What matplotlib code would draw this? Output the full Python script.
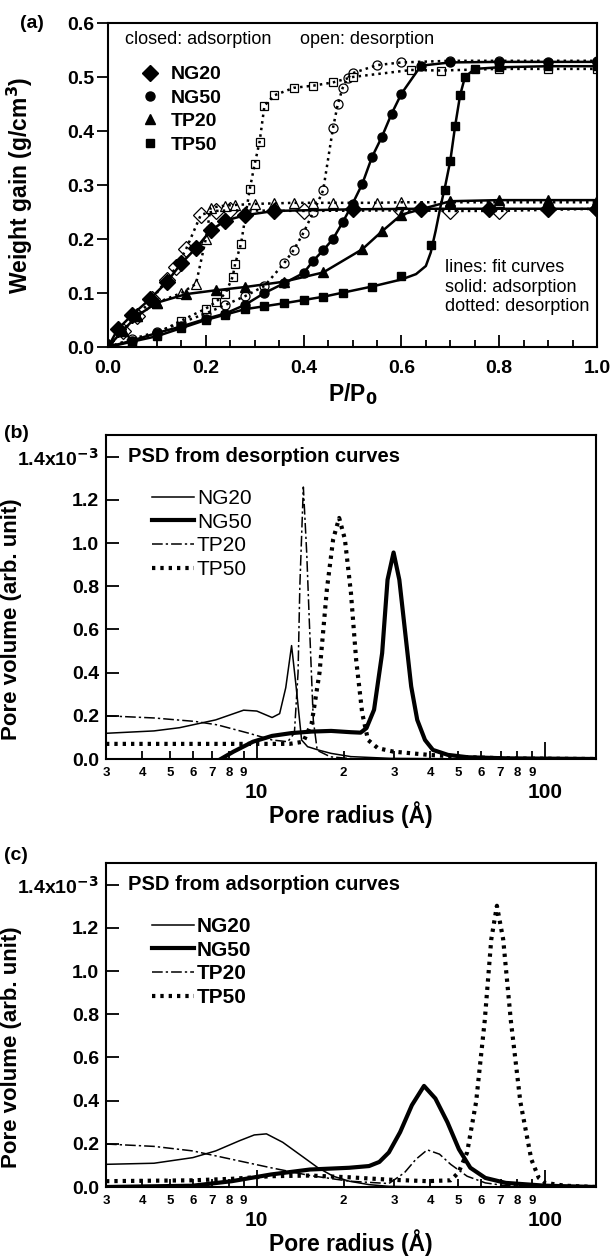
import matplotlib
matplotlib.use('Agg')
import matplotlib.pyplot as plt
from matplotlib.lines import Line2D
from matplotlib.ticker import FixedLocator, FixedFormatter, MultipleLocator, FormatStrFormatter

plt.rcParams['font.family'] = ['Liberation Sans', 'DejaVu Sans']
plt.rcParams['font.weight'] = 'bold'
plt.rcParams['axes.labelweight'] = 'bold'
plt.rcParams['axes.linewidth'] = 1.5

# ---------------- panel (a): isotherms ----------------
ng20_ads_x = [0.0, 0.02, 0.05, 0.085, 0.12, 0.15, 0.18, 0.21, 0.24, 0.28, 0.34, 0.5, 0.64, 0.78, 0.9, 1.0]
ng20_ads_y = [0.0, 0.033, 0.06, 0.088, 0.12, 0.155, 0.183, 0.216, 0.234, 0.244, 0.252, 0.255, 0.256, 0.256, 0.256, 0.256]
ng20_des_x = [0.0, 0.03, 0.06, 0.09, 0.12, 0.14, 0.16, 0.19, 0.22, 0.25, 0.4, 0.6, 0.7, 0.8, 1.0]
ng20_des_y = [0.0, 0.03, 0.058, 0.088, 0.125, 0.148, 0.182, 0.245, 0.252, 0.253, 0.252, 0.253, 0.252, 0.252, 0.256]

ng50_ads_x = [0.0, 0.05, 0.1, 0.15, 0.2, 0.24, 0.28, 0.32, 0.36, 0.4, 0.42, 0.44, 0.46, 0.48, 0.5,
              0.52, 0.54, 0.56, 0.58, 0.6, 0.64, 0.7, 0.8, 0.9, 1.0]
ng50_ads_y = [0.0, 0.012, 0.026, 0.038, 0.052, 0.062, 0.078, 0.1, 0.118, 0.137, 0.16, 0.179, 0.2, 0.231, 0.265,
              0.302, 0.352, 0.389, 0.432, 0.469, 0.521, 0.527, 0.528, 0.528, 0.528]
ng50_des_x = [0.0, 0.05, 0.1, 0.15, 0.2, 0.24, 0.28, 0.32, 0.36, 0.38, 0.4, 0.42, 0.44, 0.46, 0.47,
              0.48, 0.49, 0.5, 0.55, 0.6, 0.7, 0.8, 1.0]
ng50_des_y = [0.0, 0.015, 0.028, 0.045, 0.062, 0.078, 0.094, 0.113, 0.155, 0.18, 0.212, 0.25, 0.29, 0.405, 0.45,
              0.48, 0.498, 0.507, 0.522, 0.527, 0.53, 0.53, 0.53]

tp20_ads_x = [0.0, 0.03, 0.06, 0.1, 0.16, 0.22, 0.28, 0.36, 0.44, 0.52, 0.56, 0.6, 0.7, 0.8, 0.9, 1.0]
tp20_ads_y = [0.0, 0.03, 0.058, 0.082, 0.098, 0.105, 0.111, 0.121, 0.138, 0.181, 0.214, 0.245, 0.27, 0.272, 0.272, 0.272]
tp20_des_x = [0.0, 0.03, 0.06, 0.1, 0.15, 0.18, 0.2, 0.21, 0.24, 0.26, 0.3, 0.34, 0.38, 0.42, 0.46,
              0.55, 0.6, 0.7, 0.8, 1.0]
tp20_des_y = [0.0, 0.03, 0.058, 0.082, 0.1, 0.117, 0.2, 0.258, 0.262, 0.263, 0.265, 0.266, 0.267, 0.267, 0.267,
              0.267, 0.268, 0.268, 0.268, 0.268]

tp50_ads_x = [0.0, 0.05, 0.1, 0.15, 0.2, 0.24, 0.28, 0.32, 0.36, 0.4, 0.44, 0.48, 0.54, 0.6, 0.66,
              0.69, 0.7, 0.71, 0.72, 0.73, 0.75, 0.8, 0.9, 1.0]
tp50_ads_y = [0.0, 0.01, 0.02, 0.035, 0.05, 0.06, 0.07, 0.076, 0.081, 0.087, 0.093, 0.1, 0.112, 0.132, 0.188,
              0.29, 0.345, 0.41, 0.466, 0.5, 0.515, 0.518, 0.52, 0.52]
# fit curve for TP50 adsorption
tp50_fit_x = [0.0, 0.05, 0.1, 0.15, 0.2, 0.28, 0.36, 0.44, 0.54, 0.6, 0.63, 0.65, 0.66, 0.67, 0.68,
              0.69, 0.7, 0.71, 0.72, 0.73, 0.75, 0.8, 0.9, 1.0]
tp50_fit_y = [0.0, 0.01, 0.02, 0.035, 0.05, 0.07, 0.081, 0.093, 0.112, 0.125, 0.135, 0.15, 0.175, 0.215, 0.26,
              0.3, 0.345, 0.41, 0.466, 0.5, 0.515, 0.518, 0.52, 0.52]
tp50_des_x = [0.0, 0.05, 0.1, 0.15, 0.2, 0.22, 0.24, 0.255, 0.26, 0.272, 0.29, 0.3, 0.31, 0.32, 0.34,
              0.38, 0.42, 0.46, 0.5, 0.62, 0.68, 0.8, 0.9, 1.0]
tp50_des_y = [0.0, 0.012, 0.025, 0.049, 0.071, 0.083, 0.099, 0.13, 0.154, 0.191, 0.293, 0.339, 0.38, 0.447, 0.466,
              0.48, 0.484, 0.49, 0.5, 0.513, 0.512, 0.515, 0.515, 0.515]

iso_names = ['NG20', 'NG50', 'TP20', 'TP50']
iso_markers = ['D', 'o', '^', 's']

# ---------------- panel (b): PSD from desorption ----------------
b_ng20_r = [3, 4.4, 5.4, 7.2, 9.0, 10.0, 11.3, 12.0, 12.6, 13.2, 13.7, 14.3, 15.0, 16.5, 18.1, 21.2, 29, 60, 150]
b_ng20_v = [0.119, 0.13, 0.145, 0.181, 0.226, 0.222, 0.192, 0.21, 0.33, 0.525, 0.33, 0.088, 0.057, 0.04, 0.026, 0.011, 0.003, 0.0, 0.0]

b_ng50_r = [7.5, 8.3, 9.7, 11.3, 13.2, 15.5, 18.1, 21.2, 22.9, 24.0, 25.5, 27.2, 28.4, 29.8, 31.2, 32.7,
            34.3, 36.0, 38.3, 40.8, 46, 54, 74, 150]
b_ng50_v = [0.0, 0.034, 0.08, 0.107, 0.12, 0.127, 0.13, 0.124, 0.122, 0.143, 0.228, 0.49, 0.83, 0.956, 0.83, 0.585,
            0.336, 0.181, 0.088, 0.042, 0.019, 0.008, 0.003, 0.0]

b_tp20_r = [3, 4.4, 6.1, 7.3, 9.4, 11.3, 12.8, 13.5, 13.9, 14.1, 14.5, 14.9, 15.2, 15.7, 16.2, 18, 22, 150]
b_tp20_v = [0.2, 0.19, 0.174, 0.158, 0.119, 0.088, 0.08, 0.12, 0.4, 0.8, 1.259, 0.95, 0.646, 0.18, 0.04, 0.01, 0.0, 0.0]

b_tp50_r = [3, 8, 13, 14.5, 15.5, 16.5, 17.5, 18.4, 19.3, 20.2, 21.2, 22.1, 23.2, 24.3, 26.3, 29.8,
            39.5, 54, 80, 150]
b_tp50_v = [0.07, 0.07, 0.07, 0.08, 0.166, 0.4, 0.786, 1.018, 1.116, 1.018, 0.77, 0.46, 0.212, 0.088, 0.05, 0.034,
            0.019, 0.008, 0.002, 0.0]

# ---------------- panel (c): PSD from adsorption ----------------
c_ng20_r = [3, 4.4, 6.0, 7.2, 8.7, 9.8, 10.8, 12.3, 14.3, 16.3, 18.4, 20.9, 24.5, 28.7, 40, 150]
c_ng20_v = [0.105, 0.11, 0.136, 0.167, 0.214, 0.241, 0.246, 0.207, 0.144, 0.089, 0.05, 0.027, 0.011, 0.003, 0.0, 0.0]

c_ng50_r = [3, 6.0, 8.2, 11.2, 15.3, 17.9, 20.9, 24.5, 26.6, 28.7, 31.4, 34.5, 38.0, 41.6, 45.8, 50.2,
            55, 62, 73, 100, 150]
c_ng50_v = [0.0, 0.006, 0.027, 0.058, 0.081, 0.085, 0.089, 0.097, 0.116, 0.16, 0.254, 0.379, 0.468, 0.41, 0.3, 0.175,
            0.089, 0.042, 0.019, 0.006, 0.0]

c_tp20_r = [3, 4.4, 6.0, 8.2, 11.2, 15.3, 20.9, 28.7, 32.5, 35.6, 39, 43, 47, 53.6, 62, 73, 150]
c_tp20_v = [0.199, 0.188, 0.167, 0.128, 0.089, 0.053, 0.027, 0.016, 0.066, 0.128, 0.172, 0.152, 0.105, 0.05, 0.019, 0.006, 0.0]

c_tp50_r = [3, 6.0, 8.2, 11.2, 15.3, 20.9, 28.7, 39, 47, 50, 53.6, 57.6, 61.7, 65, 68, 71.5, 76,
            82, 89.5, 95, 100, 117, 150]
c_tp50_v = [0.027, 0.031, 0.038, 0.05, 0.053, 0.045, 0.034, 0.027, 0.031, 0.066, 0.16, 0.394, 0.77, 1.146, 1.302, 1.146, 0.77,
            0.394, 0.128, 0.042, 0.019, 0.006, 0.0]

psd_names = ['NG20', 'NG50', 'TP20', 'TP50']
minor_r = [3, 4, 5, 6, 7, 8, 9, 20, 30, 40, 50, 60, 70, 80, 90]
minor_lab = ['3', '4', '5', '6', '7', '8', '9', '2', '3', '4', '5', '6', '7', '8', '9']
psd_yticks = [0.0, 0.2, 0.4, 0.6, 0.8, 1.0, 1.2, 1.4]
psd_ylabels = ['0.0', '0.2', '0.4', '0.6', '0.8', '1.0', '1.2', '1.4x10$^{-3}$']

W, H = 610, 1259
fig = plt.figure(figsize=(W / 100, H / 100), dpi=100)


def box(l, r, t, b):
    return [l / W, 1 - b / H, (r - l) / W, (b - t) / H]


# ---- (a) ----
ax = fig.add_axes(box(108, 597, 23, 347))
des_kw = dict(ls=':', lw=1.8, color='black')
ads_kw = dict(ls='-', lw=1.8, color='black')
ms = {'D': 8, 'o': 6.5, '^': 7, 's': 6}

series = [
    (ng20_ads_x, ng20_ads_y, ng20_des_x, ng20_des_y, 'D'),
    (ng50_ads_x, ng50_ads_y, ng50_des_x, ng50_des_y, 'o'),
    (tp20_ads_x, tp20_ads_y, tp20_des_x, tp20_des_y, '^'),
    (tp50_ads_x, tp50_ads_y, tp50_des_x, tp50_des_y, 's'),
]
for xa, ya, xd, yd, m in series:
    ax.plot(xd, yd, ls='none', marker=m, ms=ms[m], mfc='white', mec='black', mew=0.9, zorder=2)
    ax.plot(xd, yd, zorder=3, **des_kw)
    if m == 's':
        ax.plot(tp50_fit_x, tp50_fit_y, zorder=4, **ads_kw)
    else:
        ax.plot(xa, ya, zorder=4, **ads_kw)
    ax.plot(xa, ya, ls='none', marker=m, ms=ms[m], color='black', zorder=5)

ax.set_xlim(0, 1.0)
ax.set_ylim(0, 0.6)
ax.xaxis.set_major_locator(MultipleLocator(0.2))
ax.xaxis.set_minor_locator(MultipleLocator(0.05))
ax.yaxis.set_major_locator(MultipleLocator(0.1))
ax.tick_params(axis='x', which='major', direction='in', length=9, width=1.3, labelsize=14, pad=9)
ax.tick_params(axis='x', which='minor', direction='in', length=5, width=1.3)
ax.tick_params(axis='y', which='major', direction='out', length=8, width=1.3, labelsize=14, pad=2)
ax.xaxis.set_major_formatter(FormatStrFormatter('%.1f'))
ax.yaxis.set_major_formatter(FormatStrFormatter('%.1f'))
ax.set_xlabel('P/P$_0$', fontsize=16.5, labelpad=3)
ax.set_ylabel('Weight gain (g/cm$^3$)', fontsize=16.5)
ax.yaxis.set_label_coords(-0.15, 0.5)

ax.text(0.035, 0.95, 'closed: adsorption', transform=ax.transAxes, fontsize=13, weight='normal', va='center')
ax.text(0.393, 0.95, 'open: desorption', transform=ax.transAxes, fontsize=13, weight='normal', va='center')
ax.text(0.69, 0.185, 'lines: fit curves\nsolid: adsorption\ndotted: desorption', transform=ax.transAxes,
        fontsize=13, weight='normal', va='center', linespacing=1.18, zorder=10,
        bbox=dict(fc='white', ec='none', pad=1))

handles = [Line2D([], [], ls='none', marker=m, ms=ms[m], color='black') for m in iso_markers]
ax.legend(handles, iso_names, loc='upper left', bbox_to_anchor=(0.066, 0.868), frameon=False,
          handlelength=1.0, handletextpad=0.55, labelspacing=0.3, borderaxespad=0,
          borderpad=0, prop={'weight': 'bold', 'size': 14})

fig.text(20 / W, 1 - 24 / H, '(a)', fontsize=14, ha='left', va='center')


# ---- (b), (c) ----
def psd_panel(top, curves, title, lab_weight):
    ax = fig.add_axes(box(106, 596, top, top + 324))
    styles = [
        dict(ls='-', lw=1.1),
        dict(ls='-', lw=3.0),
        dict(ls=(0, (7, 2, 1.5, 2)), lw=1.1),
        dict(ls=(0, (0.8, 1.2)), lw=3.0),
    ]
    for (r, v), st in zip(curves, styles):
        ax.plot(r, v, color='black', **st)
    ax.set_xscale('log')
    ax.set_xlim(3, 150)
    ax.set_ylim(0, 1.5)
    ax.xaxis.set_major_locator(FixedLocator([10, 100]))
    ax.xaxis.set_major_formatter(FixedFormatter(['10', '100']))
    ax.xaxis.set_minor_locator(FixedLocator(minor_r))
    ax.xaxis.set_minor_formatter(FixedFormatter(minor_lab))
    ax.tick_params(axis='x', which='major', direction='in', length=12, width=1.3, labelsize=15, pad=17)
    ax.tick_params(axis='x', which='minor', direction='in', length=6, width=1.3, labelsize=9.5, pad=5.5)
    ax.set_yticks(psd_yticks)
    ax.set_yticklabels(psd_ylabels)
    ax.tick_params(axis='y', which='major', direction='in', length=9, width=1.3, labelsize=14, pad=5)
    ax.set_xlabel('Pore radius (Å)', fontsize=16.5, labelpad=0)
    ax.set_ylabel('Pore volume (arb. unit)', fontsize=16)
    ax.yaxis.set_label_coords(-0.172, 0.43)
    ax.text(0.045, 1.4, title, transform=ax.get_yaxis_transform(), fontsize=14.5, va='center')
    handles = [Line2D([], [], color='black', **st) for st in styles]
    ax.legend(handles, psd_names, loc='upper left', bbox_to_anchor=(0.094, 0.833), frameon=False,
              handlelength=2.0, handletextpad=0.15, labelspacing=0.22, borderaxespad=0, borderpad=0,
              prop={'weight': lab_weight, 'size': 15})
    return ax


psd_panel(435, [(b_ng20_r, b_ng20_v), (b_ng50_r, b_ng50_v), (b_tp20_r, b_tp20_v), (b_tp50_r, b_tp50_v)],
          'PSD from desorption curves', 'normal')
fig.text(4 / W, 1 - 433 / H, '(b)', fontsize=14, ha='left', va='center')

psd_panel(863, [(c_ng20_r, c_ng20_v), (c_ng50_r, c_ng50_v), (c_tp20_r, c_tp20_v), (c_tp50_r, c_tp50_v)],
          'PSD from adsorption curves', 'bold')
fig.text(4 / W, 1 - 855 / H, '(c)', fontsize=14, ha='left', va='center')

fig.savefig('out.png', dpi=100)
